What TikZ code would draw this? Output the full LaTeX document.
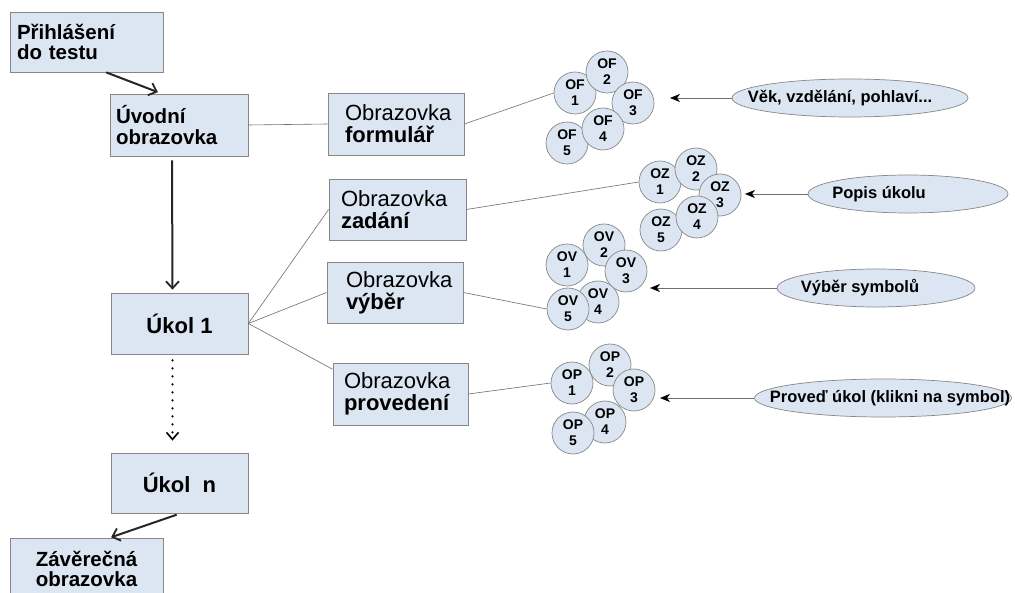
\documentclass[tikz,border=0pt]{standalone}
\usepackage{fontspec}
\setmainfont{Liberation Sans}
\usetikzlibrary{arrows.meta,shapes.geometric}
\definecolor{boxfill}{RGB}{220,230,242}
\definecolor{edgegray}{RGB}{135,135,135}
\definecolor{linegray}{RGB}{110,110,110}
\begin{document}
\begin{tikzpicture}[x=1pt,y=-1pt,
  box/.style={draw=edgegray, fill=boxfill, line width=0.8pt, inner ysep=0pt, align=left},
  bigb/.style={font=\bfseries\fontsize{20.5}{20.5}\selectfont},
  obr/.style={font=\fontsize{22}{22}\selectfont},
  ukb/.style={draw=edgegray, fill=boxfill, line width=0.8pt, inner sep=0pt, minimum width=137pt, minimum height=61pt, align=center, font=\bfseries\fontsize{22}{22}\selectfont},
  oc/.style={circle, draw=edgegray, fill=boxfill, line width=0.7pt, minimum size=42pt, inner sep=0pt, align=center, font=\bfseries\fontsize{14}{16}\selectfont},
  ell/.style={ellipse, draw=edgegray, fill=boxfill, line width=0.7pt, inner sep=0pt, minimum height=38pt, font=\bfseries\fontsize{16.5}{18}\selectfont},
  thin/.style={draw=linegray, line width=0.6pt},
  thickarr/.style={draw=black!85, line width=2pt, -{Straight Barb[length=7pt,width=13pt,line width=1.8pt]}},
  pointer/.style={draw=linegray, line width=0.7pt, -{Stealth[length=10pt,width=8pt,inset=3pt,black]}}
]
\clip (0,0) rectangle (1015,593);
\fill[white] (0,0) rectangle (1015,593);

% left column boxes
\node[box, bigb, minimum height=60pt, inner xsep=7pt, text width=139pt] (prih) at (86.5,42) {Přihlášení\\do testu};
\node[box, bigb, minimum height=62pt, inner xsep=6pt, text width=126pt] (uvod) at (179,125) {Úvodní\\obrazovka};
\node[ukb] (ukol1) at (179.5,323.5) {Úkol 1};
\node[ukb, minimum height=60pt] (ukoln) at (179.5,483) {Úkol~~n};
\node[box, bigb, minimum height=62pt, inner xsep=0pt, text width=153pt, align=center] (zav) at (86.5,569) {Závěrečná\\obrazovka};

% screen boxes
\node[box, obr, minimum height=62pt, inner xsep=17pt, text width=102pt] (form) at (396,124) {Obrazovka\\\textbf{formulář}};
\node[box, obr, minimum height=61pt, inner xsep=12pt, text width=113pt] (zad) at (397.5,209.5) {Obrazovka\\\textbf{zadání}};
\node[box, obr, minimum height=61pt, inner xsep=19pt, text width=98pt] (vyb) at (395,292.5) {Obrazovka\\\textbf{výběr}};
\node[box, obr, minimum height=62pt, inner xsep=11pt, text width=113pt] (prov) at (400.5,394) {Obrazovka\\\textbf{provedení}};

% circles OF
\node[oc] (OF1) at (575,93) {OF\\1};
\node[oc] (OF2) at (607,72) {OF\\2};
\node[oc] (OF3) at (633,103) {OF\\3};
\node[oc] (OF5) at (567,143) {OF\\5};
\node[oc] (OF4) at (603,129) {OF\\4};
% circles OZ
\node[oc] (OZ1) at (660,182) {OZ\\1};
\node[oc] (OZ2) at (696,169) {OZ\\2};
\node[oc] (OZ3) at (720,195) {OZ\\3};
\node[oc] (OZ5) at (661,230) {OZ\\5};
\node[oc] (OZ4) at (697,217) {OZ\\4};
% circles OV
\node[oc] (OV1) at (567,265) {OV\\1};
\node[oc] (OV2) at (604,245) {OV\\2};
\node[oc] (OV3) at (626,271) {OV\\3};
\node[oc] (OV4) at (598,302) {OV\\4};
\node[oc] (OV5) at (568,309) {OV\\5};
% circles OP
\node[oc] (OP1) at (572,383) {OP\\1};
\node[oc] (OP2) at (610,365) {OP\\2};
\node[oc] (OP3) at (634,390) {OP\\3};
\node[oc] (OP4) at (605,422) {OP\\4};
\node[oc] (OP5) at (573,433) {OP\\5};

% ellipses
\node[ell, minimum width=236pt] (eOF) at (850,98) {\makebox[0pt]{\kern-20pt Věk, vzdělání, pohlaví...}};
\node[ell, minimum width=200pt] (eOZ) at (908,194) {\makebox[0pt]{\kern-58pt Popis úkolu}};
\node[ell, minimum width=198pt] (eOV) at (876,288) {\makebox[0pt]{\kern-32pt Výběr symbolů}};
\node[ell, minimum width=257pt] (eOP) at (883,398) {\makebox[0pt]{\kern14pt Proveď úkol (klikni na symbol)}};

\coordinate (aOF) at (670,98);
\coordinate (aOZ) at (745,194);
\coordinate (aOV) at (650,288);
\coordinate (aOP) at (660,398);

% pointers from ellipses
\draw[pointer] (eOF.west) -- (aOF);
\draw[pointer] (eOZ.west) -- (aOZ);
\draw[pointer] (eOV.west) -- (aOV);
\draw[pointer] (eOP.west) -- (aOP);

% thin connectors
\draw[thin] (uvod.east) -- (form.west);
\draw[thin] (form.east) -- (OF1.west);
\draw[thin] (zad.east) -- (OZ1.west);
\draw[thin] (vyb.east) -- (OV5.west);
\draw[thin] (prov.east) -- (OP1.west);
\draw[thin] (ukol1.east) -- (zad.west);
\draw[thin] (ukol1.east) -- (vyb.west);
\draw[thin] (ukol1.east) -- (prov.160);

% main flow arrows
\draw[thickarr, shorten >=4pt] (prih.303) -- (uvod.119);
\draw[thickarr, shorten <=4pt, shorten >=3pt] ([xshift=-7pt]uvod.south) -- ([xshift=-7pt]ukol1.north);
\draw[draw=black, line width=2.4pt, line cap=round, dash pattern=on 0pt off 8pt, shorten <=6pt, shorten >=12pt, -{Straight Barb[length=7pt,width=12pt,line width=1.6pt]}] ([xshift=-7pt]ukol1.south) -- ([xshift=-7pt]ukoln.north);
\draw[thickarr, shorten <=4pt, shorten >=1pt] ([xshift=1pt]ukoln.south) -- (zav.53);
\end{tikzpicture}
\end{document}
